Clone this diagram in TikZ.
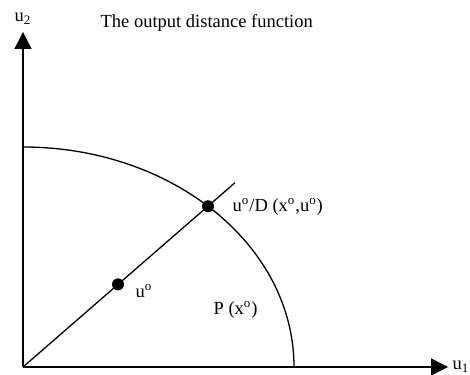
\documentclass[tikz,border=0pt]{standalone}
\usepackage{fontspec}
\setmainfont{Liberation Serif}
\usetikzlibrary{arrows.meta}
\begin{document}
\begin{tikzpicture}[x=0.5pt, y=0.5pt, line width=0.65pt,
    axis/.style={-{Triangle[length=8.5pt,width=8.5pt]}},
    dot/.style={circle, fill, inner sep=0pt, minimum size=6pt},
    lbl/.style={font=\fontsize{9.25}{11}\selectfont, inner sep=0pt}]
  \useasboundingbox (-23,-7) rectangle (447,367);
  \coordinate (O) at (0,0);
  \coordinate (ytip) at (0,335);
  \coordinate (xtip) at (425,0);
  \coordinate (rayend) at (212,184.3);
  \draw[axis] (O) -- (ytip);
  \draw[axis] (O) -- (xtip);
  \node[lbl, anchor=base] (u2) at (0,345) {u\textsubscript{2}};
  \node[lbl, anchor=base west] (u1) at (429,-3) {u\textsubscript{1}};
  \node[lbl, anchor=base west] (title) at (77,339) {The output distance function};
  \draw (0,220) arc[start angle=90, end angle=0, x radius=271, y radius=220];
  \draw (O) -- (rayend);
  \node[dot] (uo) at (95,82.6) {};
  \node[dot] (uD) at (46.95:271 and 220) {};
  \node[lbl, anchor=base west] (uolbl) at (112,69) {u\textsuperscript{o}};
  \node[lbl, anchor=base west] (uDlbl) at (209,155) {u\textsuperscript{o}/D (x\textsuperscript{o},u\textsuperscript{o})};
  \node[lbl, anchor=base west] (Plbl) at (190,52) {P (x\textsuperscript{o})};
\end{tikzpicture}
\end{document}
